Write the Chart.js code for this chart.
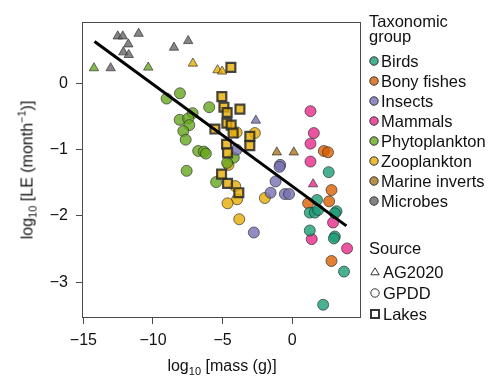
<!DOCTYPE html>
<html>
<head>
<meta charset="utf-8">
<script src="https://cdn.jsdelivr.net/npm/chart.js@4/dist/chart.umd.min.js"></script>
<style>
  html, body { margin: 0; padding: 0; background: #fff; }
  #wrap { position: relative; width: 492px; height: 376px; overflow: hidden;
          font-family: "Liberation Sans", Arial, sans-serif; color: #111; }
  #c { position: absolute; left: 0; top: 0; }
  .t { position: absolute; white-space: nowrap; font-size: 16px; line-height: 16px; }
  .lg { font-size: 16.5px; }
  .sub { font-size: 11px; position: relative; top: 4px; }
  .sup { font-size: 11px; position: relative; top: -7px; }
  svg.m { position: absolute; overflow: visible; }
</style>
</head>
<body>
<div id="wrap">
  <canvas id="c" width="492" height="376"></canvas>
  <div class="t" id="ytitle" style="left:28px; top:170px; transform: translate(-50%,-50%) rotate(-90deg);">log<span class="sub">10</span> [LE (month<span class="sup">−1</span>)]</div>
  <div class="t" id="xtitle" style="left:222px; top:358px; transform: translateX(-50%);">log<span class="sub">10</span> [mass (g)]</div>
</div>
<script>
// ---- Data (x = log10 mass, y = log10 LE, source: A=AG2020, G=GPDD, L=Lakes)
const groups = ["Birds", "Bony fishes", "Insects", "Mammals", "Phytoplankton", "Zooplankton", "Marine inverts", "Microbes"];
const groupColors = ["#1b9e77", "#d95f02", "#7570b3", "#e7298a", "#66a61e", "#e6ab02", "#a6761d", "#666666"];
const sources = ["AG2020", "GPDD", "Lakes"];
const sourceCodes = ["A", "G", "L"];
const sourceShapes = ["triangle", "circle", "rect"];

const birds = [
  [2.63, -1.34, "G"], [1.79, -1.76, "G"], [1.27, -1.95, "G"], [1.63, -1.95, "G"], [1.87, -1.91, "G"],
  [3.19, -1.93, "G"], [3.07, -1.96, "G"], [1.27, -2.22, "G"], [3.07, -2.31, "G"], [3.00, -2.34, "G"],
  [3.73, -2.84, "G"], [2.23, -3.34, "G"]
];
const bonyFishes = [
  [2.28, -1.02, "G"], [2.58, -1.04, "G"], [2.83, -1.61, "G"], [1.15, -1.81, "G"], [2.66, -1.78, "G"],
  [2.83, -2.68, "G"]
];
const insects = [
  [-2.61, -0.56, "A"],
  [-3.99, -1.00, "G"], [-0.86, -1.23, "G"], [-0.90, -1.26, "G"], [-1.19, -1.48, "G"], [-1.55, -1.65, "G"],
  [-0.52, -1.67, "G"], [-0.22, -1.67, "G"], [-2.75, -2.25, "G"]
];
const mammals = [
  [1.51, -1.52, "A"],
  [1.32, -0.42, "G"], [1.56, -0.75, "G"], [1.32, -0.91, "G"], [1.32, -1.18, "G"], [2.94, -2.10, "G"],
  [1.41, -2.35, "G"], [3.95, -2.49, "G"]
];
const phytoplankton = [
  [-14.24, 0.23, "A"], [-10.34, 0.24, "A"],
  [-8.06, -0.15, "G"], [-9.02, -0.23, "G"], [-7.15, -0.45, "G"], [-8.08, -0.55, "G"], [-7.47, -0.53, "G"],
  [-7.39, -0.63, "G"], [-7.82, -0.72, "G"], [-7.65, -0.85, "G"], [-5.96, -0.36, "G"], [-6.75, -1.02, "G"],
  [-6.34, -1.03, "G"], [-6.20, -1.06, "G"], [-7.58, -1.32, "G"], [-4.19, -1.12, "G"], [-4.67, -1.20, "G"],
  [-5.46, -1.49, "G"]
];
const zooplankton = [
  [-7.13, 0.30, "A"], [-5.36, 0.20, "A"], [-5.03, 0.18, "A"],
  [-3.99, -0.74, "G"], [-2.68, -0.75, "G"], [-4.57, -1.23, "G"], [-4.09, -1.55, "G"], [-3.95, -1.75, "G"],
  [-4.64, -1.81, "G"], [-3.80, -2.05, "G"], [-1.96, -1.73, "G"],
  [-4.40, 0.24, "L"], [-5.05, -0.20, "L"], [-4.90, -0.36, "L"], [-4.67, -0.44, "L"], [-3.75, -0.39, "L"],
  [-4.69, -0.60, "L"], [-4.38, -0.63, "L"], [-5.55, -0.69, "L"], [-4.24, -0.75, "L"], [-3.04, -0.80, "L"],
  [-4.71, -0.92, "L"], [-3.04, -0.94, "L"], [-4.64, -1.05, "L"], [-5.07, -1.37, "L"], [-4.64, -1.51, "L"],
  [-3.83, -1.65, "L"]
];
const marineInverts = [
  [-1.10, -1.04, "A"], [0.12, -1.04, "A"]
];
const microbes = [
  [-12.53, 0.71, "A"], [-12.17, 0.71, "A"], [-11.03, 0.75, "A"], [-11.77, 0.59, "A"], [-12.13, 0.47, "A"],
  [-11.74, 0.43, "A"], [-13.04, 0.23, "A"], [-8.49, 0.54, "A"], [-7.47, 0.64, "A"]
];
const groupData = [birds, bonyFishes, insects, mammals, phytoplankton, zooplankton, marineInverts, microbes];

// fitted line, endpoints
const fitX = [-14.2, 3.9];
const fitY = [0.63, -2.15];

const xTicks = [-15, -10, -5, 0];
const yTicks = [-3, -2, -1, 0];

// ---- helpers
function rgba(hex, a) {
  const n = parseInt(hex.slice(1), 16);
  return `rgba(${(n >> 16) & 255},${(n >> 8) & 255},${n & 255},${a})`;
}
const minus = v => String(v).replace("-", "\u2212");
const FONT = "'Liberation Sans', Arial, sans-serif";

// ---- datasets: line on top, then Lakes squares, then GPDD circles, then AG2020 triangles
const datasets = [{
  type: "line",
  data: fitX.map((x, i) => ({ x, y: fitY[i] })),
  borderColor: "#000", borderWidth: 3, pointRadius: 0, fill: false, tension: 0
}];
const drawOrder = [2, 1, 0];
drawOrder.forEach(si => {
  groups.forEach((g, gi) => {
    const pts = groupData[gi].filter(p => p[2] === sourceCodes[si]).map(p => ({ x: p[0], y: p[1] }));
    if (!pts.length) return;
    const sq = sourceShapes[si] === "rect";
    datasets.push({
      type: "scatter",
      label: g + " / " + sources[si],
      data: pts,
      pointStyle: sourceShapes[si],
      pointRadius: sq ? 6.3 : (sourceShapes[si] === "triangle" ? 5.4 : 5.5),
      pointBackgroundColor: rgba(groupColors[gi], 0.8),
      pointBorderColor: sq ? "rgba(40,40,40,0.85)" : "rgba(40,40,40,0.65)",
      pointBorderWidth: sq ? 2.2 : 1
    });
  });
});

const framePlugin = {
  id: "frame",
  afterDatasetsDraw(chart) {
    const a = chart.chartArea, ctx = chart.ctx;
    ctx.save();
    ctx.strokeStyle = "#4a4a4a";
    ctx.lineWidth = 1;
    ctx.strokeRect(Math.round(a.left) + 0.5, Math.round(a.top) + 0.5,
                   Math.round(a.right - a.left) - 1, Math.round(a.bottom - a.top) - 1);
    ctx.restore();
  }
};

new Chart(document.getElementById("c"), {
  data: { datasets },
  options: {
    responsive: false, animation: false, devicePixelRatio: 1,
    layout: { padding: { left: 0, top: 22, right: 131, bottom: 0 } },
    plugins: { legend: { display: false }, tooltip: { enabled: false } },
    scales: {
      x: {
        type: "linear", min: -15.1, max: 4.95,
        afterBuildTicks: s => { s.ticks = xTicks.map(v => ({ value: v })); },
        afterFit: s => { s.height = 58; },
        ticks: { callback: v => minus(v), color: "#111", padding: 7, maxRotation: 0,
                 font: { family: FONT, size: 16 } },
        grid: { drawOnChartArea: false, drawTicks: true, tickLength: 6, tickColor: "#4a4a4a", tickWidth: 1 },
        border: { display: false }
      },
      y: {
        type: "linear", min: -3.54, max: 0.925,
        afterBuildTicks: s => { s.ticks = yTicks.map(v => ({ value: v })); },
        afterFit: s => { s.width = 82; },
        ticks: { callback: v => minus(v), color: "#111", padding: 8,
                 font: { family: FONT, size: 16 } },
        grid: { drawOnChartArea: false, drawTicks: true, tickLength: 6, tickColor: "#4a4a4a", tickWidth: 1 },
        border: { display: false }
      }
    }
  },
  plugins: [framePlugin]
});

// ---- HTML legend
const wrap = document.getElementById("wrap");
function addText(txt, left, baseline) {
  const d = document.createElement("div");
  d.className = "t lg";
  d.textContent = txt;
  d.style.left = left + "px";
  d.style.top = (baseline - 13.8) + "px";
  wrap.appendChild(d);
}
function addMarker(shape, cx, cy, fill) {
  const ns = "http://www.w3.org/2000/svg";
  const s = document.createElementNS(ns, "svg");
  s.setAttribute("class", "m");
  s.setAttribute("width", 12); s.setAttribute("height", 12);
  s.style.left = (cx - 6) + "px"; s.style.top = (cy - 6) + "px";
  let el;
  if (shape === "circle") {
    el = document.createElementNS(ns, "circle");
    el.setAttribute("cx", 6); el.setAttribute("cy", 6); el.setAttribute("r", 4.2);
  } else if (shape === "triangle") {
    el = document.createElementNS(ns, "polygon");
    el.setAttribute("points", "6,1.8 10.2,8.8 1.8,8.8");
  } else {
    el = document.createElementNS(ns, "rect");
    el.setAttribute("x", 2); el.setAttribute("y", 2); el.setAttribute("width", 8); el.setAttribute("height", 8);
  }
  el.setAttribute("fill", fill || "none");
  el.setAttribute("stroke", "#333");
  el.setAttribute("stroke-width", shape === "rect" ? 2 : 1);
  s.appendChild(el);
  wrap.appendChild(s);
}
addText("Taxonomic", 369, 27);
addText("group", 369, 42);
groups.forEach((g, i) => {
  const cy = 61 + 20 * i;
  addMarker("circle", 373.5, cy, rgba(groupColors[i], 0.8));
  addText(g, 381, cy + 6);
});
addText("Source", 369, 254);
sources.forEach((s, i) => {
  const cy = 272 + 20.8 * i;
  addMarker(sourceShapes[i], 374.5, cy, null);
  addText(s, 383, cy + 6);
});
</script>
</body>
</html>
